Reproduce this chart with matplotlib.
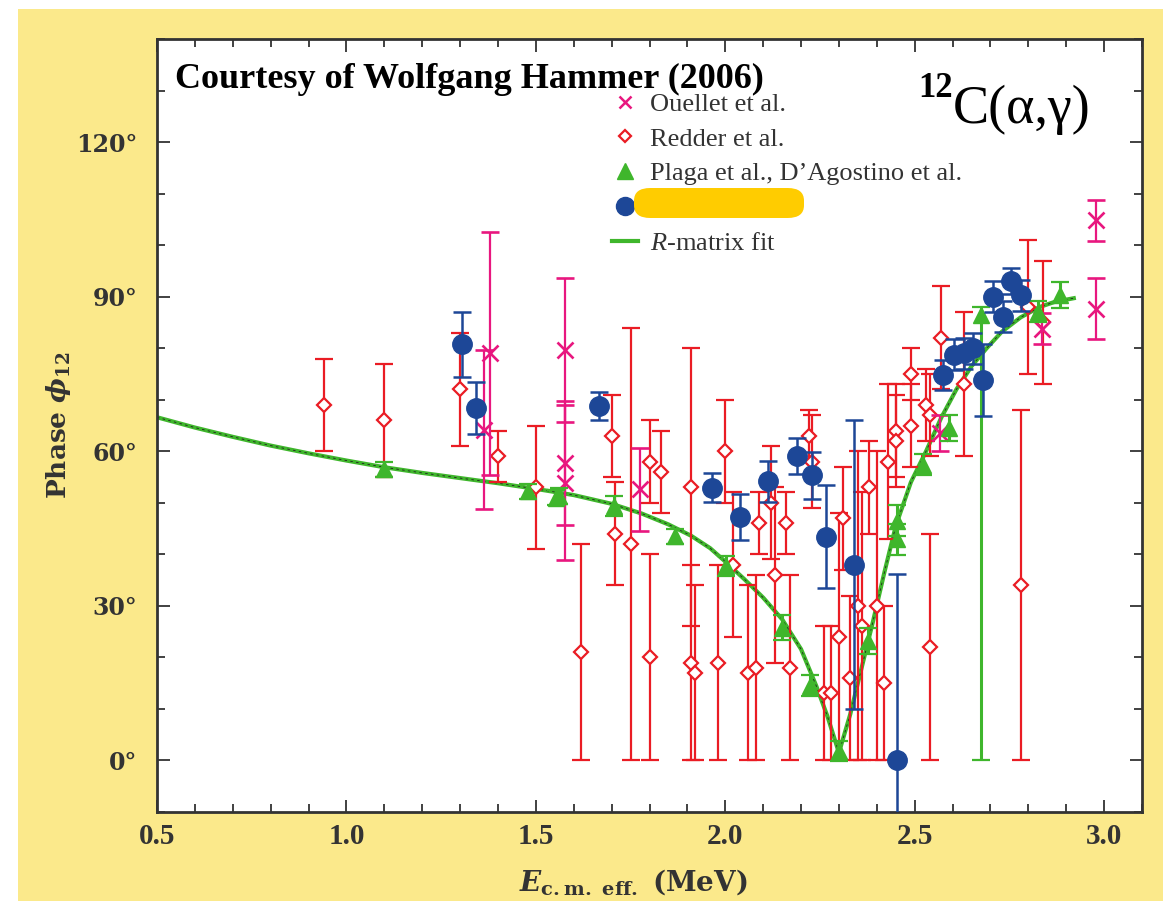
import matplotlib
matplotlib.use('Agg')
import matplotlib.pyplot as plt
from matplotlib.patches import Rectangle, FancyBboxPatch
from matplotlib.lines import Line2D
from matplotlib.ticker import MultipleLocator, FuncFormatter

# Ouellet et al. (pink crosses): energy, phase, error
ouellet_E = [1.364, 1.38, 1.576, 1.576, 1.576, 1.775, 2.566, 2.835, 2.978, 2.978]
ouellet_phi = [64.2, 79.0, 79.7, 57.7, 53.9, 52.6, 63.5, 83.8, 104.8, 87.7]
ouellet_err = [15.5, 23.6, 14.0, 12.0, 15.0, 8.0, 3.5, 3.0, 4.0, 6.0]

# Redder et al. (open red diamonds)
redder_E = [0.94, 1.10, 1.30, 1.40, 1.50, 1.62, 1.70, 1.71, 1.75, 1.80, 1.80, 1.83,
            1.91, 1.91, 1.92, 1.98, 2.00, 2.02, 2.06, 2.08, 2.09, 2.12, 2.13, 2.16,
            2.17, 2.22, 2.23, 2.26, 2.28, 2.30, 2.31, 2.33, 2.35, 2.36, 2.38, 2.40,
            2.42, 2.43, 2.45, 2.45, 2.49, 2.49, 2.53, 2.54, 2.54, 2.57, 2.63, 2.78,
            2.80, 2.84]
redder_phi = [69, 66, 72, 59, 53, 21, 63, 44, 42, 58, 20, 56,
              53, 19, 17, 19, 60, 38, 17, 18, 46, 50, 36, 46,
              18, 63, 58, 13, 13, 24, 47, 16, 30, 26, 53, 30,
              15, 58, 64, 62, 75, 65, 69, 67, 22, 82, 73, 34,
              88, 85]
redder_err = [9, 11, 11, 5, 12, 21, 8, 10, 42, 8, 20, 8,
              27, 19, 17, 19, 10, 14, 17, 18, 6, 11, 17, 6,
              18, 5, 9, 13, 13, 24, 10, 16, 30, 26, 9, 30,
              15, 15, 9, 9, 5, 8, 7, 8, 22, 10, 14, 34,
              13, 12]

# Plaga et al., D'Agostino et al. (green triangles)
plaga_E = [1.10, 1.478, 1.553, 1.562, 1.706, 1.868, 2.002, 2.151, 2.224, 2.30,
           2.377, 2.452, 2.452, 2.522, 2.59, 2.676, 2.826, 2.883]
plaga_phi = [56.5, 52.2, 51.0, 51.3, 49.4, 43.5, 37.7, 25.8, 14.5, 1.8,
             23.2, 42.9, 46.5, 57.4, 64.5, 86.5, 87.1, 90.3]
plaga_lo = [1.5, 1.5, 1.5, 1.5, 2.0, 1.5, 2.0, 2.5, 2.0, 2.0,
            2.5, 3.0, 3.0, 2.0, 2.5, 86.5, 2.0, 2.5]
plaga_hi = [1.5, 1.5, 1.5, 1.5, 2.0, 1.5, 2.0, 2.5, 2.0, 2.0,
            2.5, 3.0, 3.0, 2.0, 2.5, 1.5, 2.0, 2.5]

# hidden data set (blue circles)
blue_E = [1.305, 1.342, 1.667, 1.965, 2.039, 2.114, 2.19, 2.228, 2.266, 2.339,
          2.452, 2.576, 2.605, 2.63, 2.654, 2.68, 2.706, 2.733, 2.754, 2.78]
blue_phi = [80.8, 68.4, 68.8, 52.9, 47.2, 54.2, 59.0, 55.3, 43.4, 38.0,
            0.1, 74.8, 78.7, 79.0, 80.0, 73.9, 90.0, 86.1, 93.0, 90.3]
blue_err = [6.3, 5.0, 2.7, 2.8, 4.5, 4.0, 3.5, 4.5, 10.0, 28.0,
            36.0, 3.0, 3.0, 3.0, 3.0, 7.0, 3.0, 3.0, 2.5, 3.0]

# R-matrix fit
fit_E = [0.5, 0.6, 0.7, 0.8, 0.9, 1.0, 1.1, 1.2, 1.3, 1.4, 1.5, 1.6, 1.7, 1.78,
         1.85, 1.91, 1.96, 2.0, 2.05, 2.1, 2.15, 2.2, 2.24, 2.27, 2.30, 2.33,
         2.36, 2.39, 2.42, 2.45, 2.49, 2.53, 2.57, 2.61, 2.65, 2.69, 2.73, 2.78,
         2.83, 2.87, 2.92]
fit_phi = [66.6, 64.6, 62.8, 61.1, 59.6, 58.2, 56.9, 55.8, 54.8, 53.8, 52.7, 51.5,
           49.8, 47.9, 45.8, 43.6, 41.2, 38.6, 35.2, 31.6, 27.4, 21.6, 14.5, 8.5,
           1.5, 9.0, 18.0, 27.0, 36.5, 45.5, 54.0, 60.0, 66.5, 72.0, 76.5, 80.0,
           83.2, 86.0, 88.0, 89.0, 89.7]

legend_labels = ['Ouellet et al.', 'Redder et al.', "Plaga et al., D\u2019Agostino et al.",
                 '', r'$\mathsf{R}$-matrix fit']

PINK = '#e8177f'
RED = '#ea1c24'
GREEN = '#3fb62c'
BLUE = '#1d4797'
YELLOW_BG = '#fbe98b'
TXT = '#333333'

plt.rcParams['mathtext.fontset'] = 'custom'
plt.rcParams['mathtext.rm'] = 'DejaVu Serif:bold'
plt.rcParams['mathtext.bf'] = 'DejaVu Serif:bold'
plt.rcParams['mathtext.it'] = 'DejaVu Serif:italic:bold'
plt.rcParams['mathtext.sf'] = 'Liberation Serif:italic'

fig = plt.figure(figsize=(11.63, 9.01), dpi=100)
fig.patch.set_facecolor('white')
bg = Rectangle((18 / 1163, 0), 1, (901 - 9) / 901, transform=fig.transFigure,
               facecolor=YELLOW_BG, edgecolor='none', zorder=-10)
fig.patches.append(bg)

ax = fig.add_axes([157 / 1163, (901 - 812) / 901, (1142 - 157) / 1163, (812 - 39) / 901])
ax.set_zorder(1)
ax.set_facecolor('white')
ax.set_xlim(0.5, 3.1)
ax.set_ylim(-10, 140)

ax.plot(fit_E, fit_phi, color=GREEN, lw=3, zorder=2)
ax.plot(fit_E, fit_phi, color='#222222', lw=0.6, ls=(0, (3, 4)), zorder=2.1)

ax.errorbar(redder_E, redder_phi, yerr=redder_err, fmt='D', ms=7, mfc='white', mec=RED,
            mew=1.6, ecolor=RED, elinewidth=1.6, capsize=6.5, capthick=1.6, zorder=3)
ax.errorbar(ouellet_E, ouellet_phi, yerr=ouellet_err, fmt='x', ms=12, mec=PINK, mew=1.9,
            ecolor=PINK, elinewidth=1.6, capsize=6.5, capthick=1.6, zorder=3.5)
ax.errorbar(plaga_E, plaga_phi, yerr=[plaga_lo, plaga_hi], fmt='^', ms=12, mfc=GREEN,
            mec=GREEN, ecolor=GREEN, elinewidth=2.2, capsize=6.5, capthick=1.6, zorder=4)
ax.errorbar(blue_E, blue_phi, yerr=blue_err, fmt='o', ms=14, mfc=BLUE, mec=BLUE,
            ecolor=BLUE, elinewidth=1.8, capsize=6.5, capthick=1.8, zorder=5)

# ticks
ax.xaxis.set_major_locator(MultipleLocator(0.5))
ax.xaxis.set_minor_locator(MultipleLocator(0.1))
ax.yaxis.set_major_locator(MultipleLocator(30))
ax.yaxis.set_minor_locator(MultipleLocator(10))
ax.yaxis.set_major_formatter(FuncFormatter(lambda v, p: '%d\u00b0' % v))
ax.xaxis.set_major_formatter(FuncFormatter(lambda v, p: '%.1f' % v))
ax.tick_params(which='both', direction='in', top=True, right=True, color=TXT, width=1.3)
ax.tick_params(which='major', length=9)
ax.tick_params(which='minor', length=6)
ax.tick_params(axis='x', pad=8)
ax.tick_params(axis='y', pad=14)
for lab in ax.get_xticklabels():
    lab.set_fontfamily('Liberation Serif')
    lab.set_fontweight('bold')
    lab.set_fontsize(21)
    lab.set_color(TXT)
for lab in ax.get_yticklabels():
    lab.set_fontfamily('DejaVu Serif')
    lab.set_fontweight('bold')
    lab.set_fontsize(17)
    lab.set_color(TXT)
for sp in ax.spines.values():
    sp.set_linewidth(2)
    sp.set_color(TXT)

ax.set_ylabel(r'Phase $\phi_{\mathbf{12}}$', fontfamily='DejaVu Serif', fontweight='bold',
              fontsize=19, color=TXT, labelpad=2)
ax.set_xlabel(r'$E_{\mathrm{c.m.\ eff.}}$ (MeV)', fontfamily='DejaVu Serif', fontweight='bold',
              fontsize=20, color=TXT, labelpad=12)
ax.xaxis.label.set_x(0.484)

# legend
handles = [
    Line2D([], [], ls='none', marker='x', ms=9, mec=PINK, mew=1.8),
    Line2D([], [], ls='none', marker='D', ms=6, mfc='white', mec=RED, mew=1.6),
    Line2D([], [], ls='none', marker='^', ms=11, mfc=GREEN, mec=GREEN),
    Line2D([], [], ls='none', marker='o', ms=13, mfc=BLUE, mec=BLUE),
    Line2D([], [], color=GREEN, lw=3),
]
leg = ax.legend(handles, legend_labels, loc='upper left', bbox_to_anchor=(0.462, 0.931),
                frameon=False, handlelength=1.0, handletextpad=0.45, labelspacing=0.43,
                borderpad=0, borderaxespad=0, prop={'family': 'Liberation Serif', 'size': 19})
for t in leg.get_texts():
    t.set_color(TXT)

fig.patches.append(FancyBboxPatch((634 / 1163, (901 - 218) / 901), 170 / 1163, 30 / 901,
                                  boxstyle='round,pad=0,rounding_size=0.014',
                                  transform=fig.transFigure, facecolor='#ffcc00',
                                  edgecolor='none', zorder=10))

fig.text(175 / 1163, (901 - 88) / 901, 'Courtesy of Wolfgang Hammer (2006)',
         fontfamily='Liberation Serif', fontweight='bold', fontsize=26, color='black', zorder=10)
fig.text(918 / 1163, (901 - 97) / 901, '12', fontfamily='Liberation Serif',
         fontweight='bold', fontsize=25, color='black', zorder=10)
fig.text(953 / 1163, (901 - 123) / 901, 'C(\u03b1,\u03b3)', fontfamily='Liberation Serif',
         fontsize=39, color='black', zorder=10)

fig.savefig('out.png', dpi=100)
